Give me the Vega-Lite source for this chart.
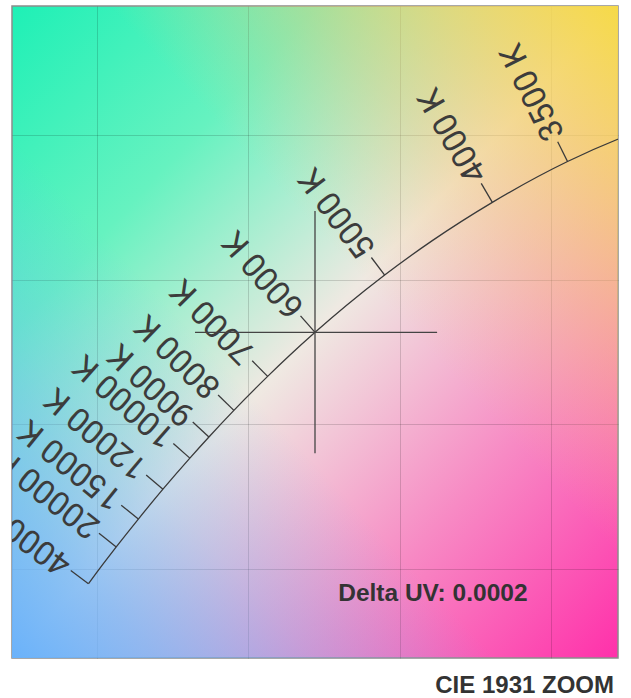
{
  "$schema": "https://vega.github.io/schema/vega-lite/v6.json",
  "width": 606,
  "height": 652,
  "padding": {"left": 12, "top": 6, "right": 13, "bottom": 5},
  "background": "white",
  "title": {
    "text": "CIE 1931 ZOOM",
    "orient": "bottom",
    "anchor": "end",
    "frame": "group",
    "offset": 16,
    "dx": -4,
    "font": "Liberation Sans",
    "fontSize": 24,
    "fontWeight": "bold",
    "color": "#333333"
  },
  "config": {
    "view": {
      "stroke": "#8c8c8c",
      "strokeWidth": 1.5,
      "fill": {"gradient": "linear", "x1": 0, "y1": 0, "x2": 1, "y2": 1, "stops": [
        {"offset": 0, "color": "#1ef0b6"},
        {"offset": 0.25, "color": "#66f2c0"},
        {"offset": 0.5, "color": "#efe9e2"},
        {"offset": 0.75, "color": "#f78ac4"},
        {"offset": 1, "color": "#ff30aa"}
      ]}
    },
    "axis": {
      "labels": false,
      "ticks": false,
      "domain": false,
      "grid": true,
      "gridColor": "#000000",
      "gridOpacity": 0.15,
      "gridWidth": 1,
      "tickCount": 4,
      "zindex": 1
    }
  },
  "datasets": {
    "locus": [
      {"T": 3000, "x": 0.43658, "y": 0.40417},
      {"T": 3200, "x": 0.42318, "y": 0.39908},
      {"T": 3500, "x": 0.40534, "y": 0.39085},
      {"T": 4000, "x": 0.38053, "y": 0.37673},
      {"T": 4500, "x": 0.36071, "y": 0.36349},
      {"T": 5000, "x": 0.34499, "y": 0.35159},
      {"T": 5500, "x": 0.33234, "y": 0.34104},
      {"T": 6000, "x": 0.32202, "y": 0.33178},
      {"T": 6500, "x": 0.31349, "y": 0.32367},
      {"T": 7000, "x": 0.30637, "y": 0.31655},
      {"T": 8000, "x": 0.29523, "y": 0.30481},
      {"T": 9000, "x": 0.28699, "y": 0.29561},
      {"T": 10000, "x": 0.28070, "y": 0.28830},
      {"T": 12000, "x": 0.27182, "y": 0.27756},
      {"T": 15000, "x": 0.26370, "y": 0.26724},
      {"T": 20000, "x": 0.25641, "y": 0.25761},
      {"T": 25000, "x": 0.25247, "y": 0.25225},
      {"T": 30000, "x": 0.25004, "y": 0.24889},
      {"T": 40000, "x": 0.24723, "y": 0.24489}
    ],
    "ticks": [
      {"label": "3500 K", "x": 0.40534, "y": 0.39085, "tx": 0.40210, "ty": 0.39765},
      {"label": "4000 K", "x": 0.38053, "y": 0.37673, "tx": 0.37686, "ty": 0.38330},
      {"label": "5000 K", "x": 0.34499, "y": 0.35159, "tx": 0.34061, "ty": 0.35766},
      {"label": "6000 K", "x": 0.32202, "y": 0.33178, "tx": 0.31722, "ty": 0.33749},
      {"label": "7000 K", "x": 0.30637, "y": 0.31655, "tx": 0.30127, "ty": 0.32197},
      {"label": "8000 K", "x": 0.29523, "y": 0.30481, "tx": 0.29002, "ty": 0.31010},
      {"label": "9000 K", "x": 0.28699, "y": 0.29561, "tx": 0.28165, "ty": 0.30077},
      {"label": "10000 K", "x": 0.28070, "y": 0.28830, "tx": 0.27524, "ty": 0.29332},
      {"label": "12000 K", "x": 0.27182, "y": 0.27756, "tx": 0.26628, "ty": 0.28246},
      {"label": "15000 K", "x": 0.26370, "y": 0.26724, "tx": 0.25805, "ty": 0.27203},
      {"label": "20000 K", "x": 0.25641, "y": 0.25761, "tx": 0.25071, "ty": 0.26232},
      {"label": "40000 K", "x": 0.24723, "y": 0.24489, "tx": 0.24139, "ty": 0.24942}
    ],
    "cross": [
      {"x": 0.2824, "x2": 0.3623, "y": 0.3318, "y2": 0.3318},
      {"x": 0.3220, "x2": 0.3220, "y": 0.3737, "y2": 0.2900}
    ],
    "note": [
      {"text": "Delta UV: 0.0002", "x": 0.3609, "y": 0.2389}
    ]
  },
  "layer": [
    {
      "data": {"values": [{}]},
      "mark": {"type": "rect", "fill": {"gradient": "linear", "x1": 1, "y1": 0, "x2": 0, "y2": 1, "stops": [
        {"offset": 0, "color": "rgba(246,218,72,1)"},
        {"offset": 0.12, "color": "rgba(246,210,90,0.75)"},
        {"offset": 0.26, "color": "rgba(246,200,110,0.42)"},
        {"offset": 0.42, "color": "rgba(246,200,130,0)"},
        {"offset": 0.6, "color": "rgba(106,178,250,0)"},
        {"offset": 0.75, "color": "rgba(106,178,250,0.33)"},
        {"offset": 0.88, "color": "rgba(106,178,250,0.7)"},
        {"offset": 1, "color": "rgba(106,178,250,1)"}
      ]}},
      "encoding": {"x": {"value": 0}, "x2": {"value": "width"}, "y": {"value": 0}, "y2": {"value": "height"}}
    },
    {
      "data": {"name": "locus"},
      "mark": {"type": "line", "color": "#3a3a3a", "strokeWidth": 1.3, "interpolate": "monotone", "clip": true},
      "encoding": {
        "x": {"field": "x", "type": "quantitative", "title": null, "scale": {"domain": [0.222, 0.422], "zero": false, "nice": false}},
        "y": {"field": "y", "type": "quantitative", "title": null, "scale": {"domain": [0.2192, 0.4446], "zero": false, "nice": false}}
      }
    },
    {
      "data": {"name": "ticks"},
      "mark": {"type": "rule", "color": "#3a3a3a", "strokeWidth": 1.3, "clip": true},
      "encoding": {
        "x": {"field": "x", "type": "quantitative", "title": null},
        "y": {"field": "y", "type": "quantitative", "title": null},
        "x2": {"field": "tx"},
        "y2": {"field": "ty"}
      }
    },
    {
      "data": {"name": "ticks"},
      "transform": [
        {"calculate": "atan2(-(datum.ty - datum.y) * 2892, (datum.tx - datum.x) * 3030) * 180 / PI + 360", "as": "ang"}
      ],
      "mark": {"type": "text", "align": "left", "baseline": "middle", "dx": 4, "font": "Roboto", "fontSize": 33, "color": "#3c3c3c", "clip": true},
      "encoding": {
        "x": {"field": "tx", "type": "quantitative", "title": null},
        "y": {"field": "ty", "type": "quantitative", "title": null},
        "text": {"field": "label"},
        "angle": {"field": "ang", "type": "quantitative", "scale": null}
      }
    },
    {
      "data": {"name": "cross"},
      "mark": {"type": "rule", "color": "#444444", "strokeWidth": 1.3},
      "encoding": {
        "x": {"field": "x", "type": "quantitative", "title": null},
        "y": {"field": "y", "type": "quantitative", "title": null},
        "x2": {"field": "x2"},
        "y2": {"field": "y2"}
      }
    },
    {
      "data": {"name": "note"},
      "mark": {"type": "text", "align": "center", "baseline": "alphabetic", "font": "Liberation Sans", "fontSize": 24.5, "fontWeight": "bold", "color": "#333333"},
      "encoding": {
        "x": {"field": "x", "type": "quantitative", "title": null},
        "y": {"field": "y", "type": "quantitative", "title": null},
        "text": {"field": "text"}
      }
    }
  ]
}
